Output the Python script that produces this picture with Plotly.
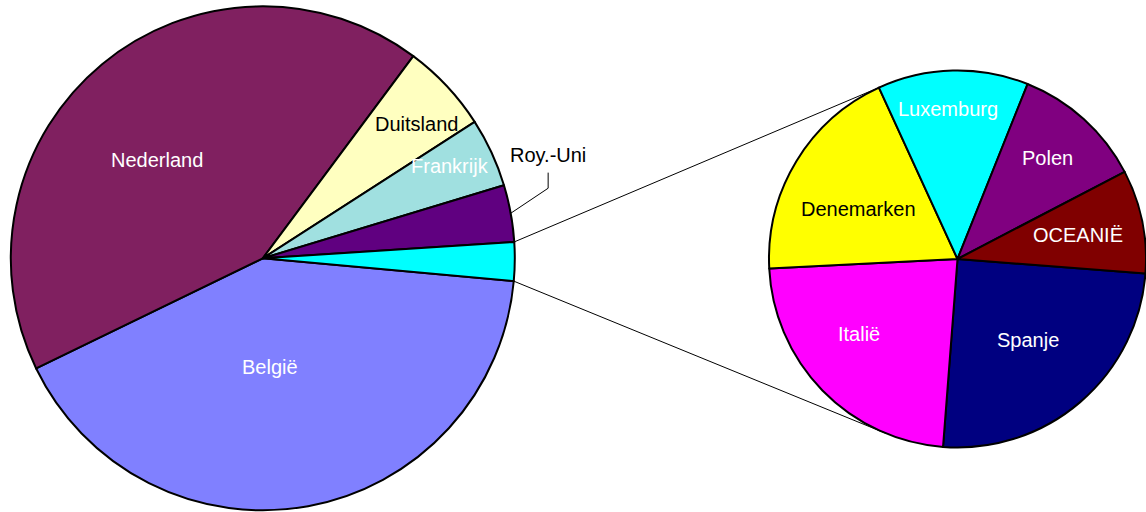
import math
import plotly.graph_objects as go

# ---------------- data ----------------
left_labels = ["België", "Nederland", "Duitsland", "Frankrijk", "Roy.-Uni", "Overige"]
left_main_values = [41.36, 42.39, 5.71, 4.42, 3.65]          # % of total (first five slices)
right_labels = ["Spanje", "Italië", "Denemarken", "Luxemburg", "Polen", "OCEANIË"]
right_values = [0.62, 0.57, 0.47, 0.32, 0.28, 0.22]          # % of total, split of "Overige"
left_values = left_main_values + [round(sum(right_values), 2)]

left_colors = ["#8080FF", "#802060", "#FFFFC0", "#A0E0E0", "#600080", "#00FFFF"]
right_colors = ["#000080", "#FF00FF", "#FFFF00", "#00FFFF", "#800080", "#800000"]

# ---------------- layout / geometry (styling) ----------------
W, H = 1146, 512
FONT = "Liberation Sans, Arial, sans-serif"
FS = 20
L = dict(cx=262.8, cy=258.3, r=252.0, rot=95.2)
R = dict(cx=957.5, cy=259.0, r=188.5, rot=94.4)

# label placement: (radius fraction, angle offset from slice middle, colour)
label_style = {
    "België": (0.431, 6.3, "white"),
    "Nederland": (0.573, -7.45, "white"),
    "Duitsland": (0.811, 2.0, "black"),
    "Frankrijk": (0.828, -1.4, "white"),
    "Spanje": (0.567, -0.5, "white"),
    "Italië": (0.657, 6.9, "white"),
    "Denemarken": (0.587, -4.6, "black"),
    "Luxemburg": (0.798, -2.3, "white"),
    "Polen": (0.716, -0.3, "white"),
    "OCEANIË": (0.650, 0.3, "white"),
}
outside_label = "Roy.-Uni"
leader = dict(elbow_frac=1.166, elbow_dang=-3.5, rise=15.6, gap=17.2)


def domain(p):
    return dict(x=[(p["cx"] - p["r"]) / W, min(1.0, (p["cx"] + p["r"]) / W)],
                y=[(H - p["cy"] - p["r"]) / H, (H - p["cy"] + p["r"]) / H])


def angles(values, rot):
    tot = sum(values)
    out, a = [], rot
    for v in values:
        b = a + 360.0 * v / tot
        out.append((a, b))
        a = b
    return out


def pt(p, ang, frac=1.0):
    t = math.radians(ang)
    return (p["cx"] + frac * p["r"] * math.sin(t), p["cy"] - frac * p["r"] * math.cos(t))


def px2paper(x, y):
    return x / W, 1 - y / H


def tangent(P, C, r, upper):
    dx, dy = C[0] - P[0], C[1] - P[1]
    d = math.hypot(dx, dy)
    th = math.atan2(dy, dx)
    al = math.asin(r / d)
    tl = math.sqrt(d * d - r * r)
    a = th - al if upper else th + al
    return (P[0] + tl * math.cos(a), P[1] + tl * math.sin(a))


fig = go.Figure()
for labels, values, colors, p in [(left_labels, left_values, left_colors, L),
                                  (right_labels, right_values, right_colors, R)]:
    fig.add_trace(go.Pie(
        labels=labels, values=values, sort=False, direction="clockwise",
        rotation=p["rot"], domain=domain(p), textinfo="none", hoverinfo="skip",
        marker=dict(colors=colors, line=dict(color="black", width=2)),
        showlegend=False))

annotations, shapes = [], []
for labels, values, p in [(left_labels, left_values, L), (right_labels, right_values, R)]:
    for lab, (a0, a1) in zip(labels, angles(values, p["rot"])):
        mid = (a0 + a1) / 2
        if lab in label_style:
            frac, dang, col = label_style[lab]
            x, y = px2paper(*pt(p, mid + dang, frac))
            annotations.append(dict(x=x, y=y, xref="paper", yref="paper", text=lab,
                                    showarrow=False, xanchor="center", yanchor="middle",
                                    font=dict(family=FONT, size=FS, color=col)))
        elif lab == outside_label:
            s = pt(p, mid, 1.0)
            e = pt(p, mid + leader["elbow_dang"], leader["elbow_frac"])
            top = (e[0], e[1] - leader["rise"])
            pts = [px2paper(*q) for q in (s, e, top)]
            path = "M {} {} L {} {} L {} {}".format(*[c for q in pts for c in q])
            shapes.append(dict(type="path", xref="paper", yref="paper", path=path,
                               line=dict(color="black", width=1)))
            x, y = px2paper(top[0], top[1] - leader["gap"])
            annotations.append(dict(x=x, y=y, xref="paper", yref="paper", text=lab,
                                    showarrow=False, xanchor="center", yanchor="middle",
                                    font=dict(family=FONT, size=FS, color="black")))

# connector lines from the "Overige" slice to the second pie
a_up, a_low = angles(left_values, L["rot"])[-1]
for ang, upper in [(a_up, True), (a_low, False)]:
    P = pt(L, ang)
    T = tangent(P, (R["cx"], R["cy"]), R["r"], upper)
    x0, y0 = px2paper(*P)
    x1, y1 = px2paper(*T)
    shapes.append(dict(type="line", xref="paper", yref="paper", x0=x0, y0=y0, x1=x1, y1=y1,
                       line=dict(color="black", width=1)))

fig.update_layout(width=W, height=H, autosize=False,
                  margin=dict(l=0, r=0, t=0, b=0, pad=0),
                  paper_bgcolor="white", plot_bgcolor="white",
                  font=dict(family=FONT, size=FS),
                  annotations=annotations, shapes=shapes)

fig.write_html("out.html", config={"displayModeBar": False},
               post_script="document.body.style.margin='0';document.body.style.overflow='hidden';")
